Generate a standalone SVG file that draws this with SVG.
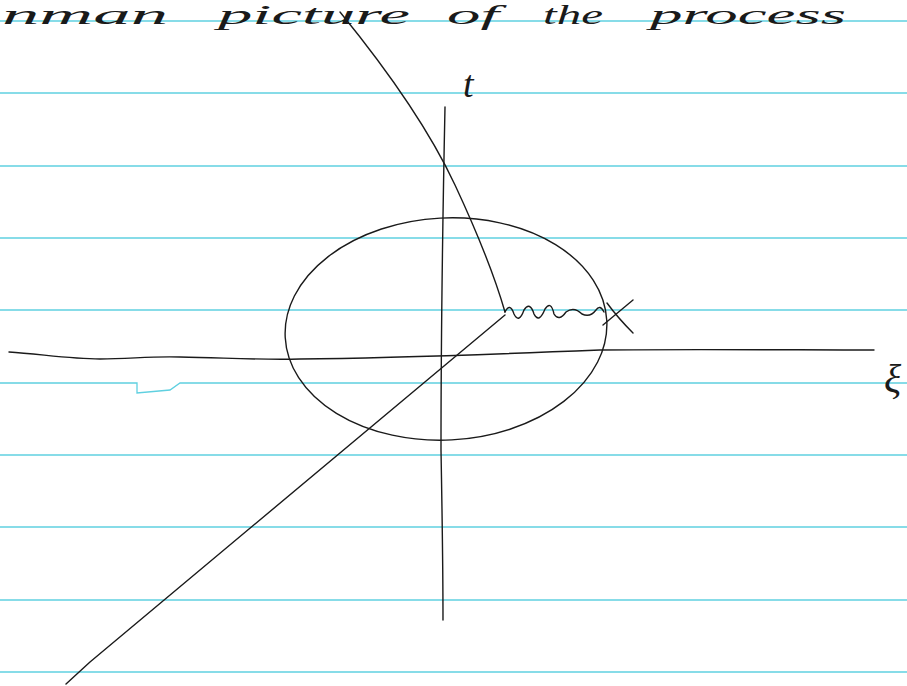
<svg xmlns="http://www.w3.org/2000/svg" width="907" height="686" viewBox="0 0 907 686">
<style>
.rule{stroke:#5fd0e0;stroke-width:1.3;fill:none}
.ink{stroke:#1a1a1a;stroke-width:1.4;fill:none;stroke-linecap:round;stroke-linejoin:round}
.hand{font-family:"Liberation Serif",serif;font-style:italic;fill:#1a1a1a}
.w{font-size:27px}
</style>
<rect width="907" height="686" fill="#ffffff"/>
<g id="rules">
<line class="rule" x1="0" y1="21" x2="907" y2="21"/>
<line class="rule" x1="0" y1="93" x2="907" y2="93"/>
<line class="rule" x1="0" y1="166" x2="907" y2="166"/>
<line class="rule" x1="0" y1="238" x2="907" y2="238"/>
<line class="rule" x1="0" y1="310" x2="907" y2="310"/>
<path class="rule" d="M0 383 H137 V393 L170 390 L180 383 H907"/>
<line class="rule" x1="0" y1="455" x2="907" y2="455"/>
<line class="rule" x1="0" y1="527" x2="907" y2="527"/>
<line class="rule" x1="0" y1="600" x2="907" y2="600"/>
<line class="rule" x1="0" y1="672" x2="907" y2="672"/>
</g>
<g id="title">
<text class="hand w" x="2" y="24" textLength="166" lengthAdjust="spacingAndGlyphs">nman</text>
<text class="hand w" x="218" y="24" textLength="192" lengthAdjust="spacingAndGlyphs">picture</text>
<text class="hand w" x="447" y="24" textLength="52" lengthAdjust="spacingAndGlyphs">of</text>
<text class="hand w" x="543" y="24" textLength="60" lengthAdjust="spacingAndGlyphs">the</text>
<text class="hand w" x="650" y="24" textLength="196" lengthAdjust="spacingAndGlyphs">process</text>
</g>
<g id="axes">
<path class="ink" d="M445 107 Q441 300 441 450 Q443 560 443 620"/>
<path class="ink" d="M9 352 C40 354 70 359 100 359 C130 359 150 356 180 357 C230 358 260 360 300 359 C400 358 500 354 600 350 C700 349 800 350 874 350"/>
<path class="ink" d="M66 684 L90 662 L505 315"/>
<text class="hand" x="463" y="97" font-size="38">t</text>
<text class="hand" x="884" y="392" font-size="40">ξ</text>
</g>
<g id="ellipse">
<ellipse class="ink" cx="446" cy="329" rx="161" ry="111" transform="rotate(-3 446 329)"/>
</g>
<g id="connectors">
<path class="ink" d="M340 12 Q420 110 455 185 Q490 260 505 312"/>
<path class="ink" d="M505 312 Q510 302 514 314 Q519 324 524 310 Q530 301 534 314 Q539 324 545 309 Q551 300 554 314 Q559 322 566 312 Q574 306 582 314 Q590 318 596 310 Q600 304 604 312 M633 300 L603 325 M607 303 Q618 318 633 333"/>
</g>
</svg>
